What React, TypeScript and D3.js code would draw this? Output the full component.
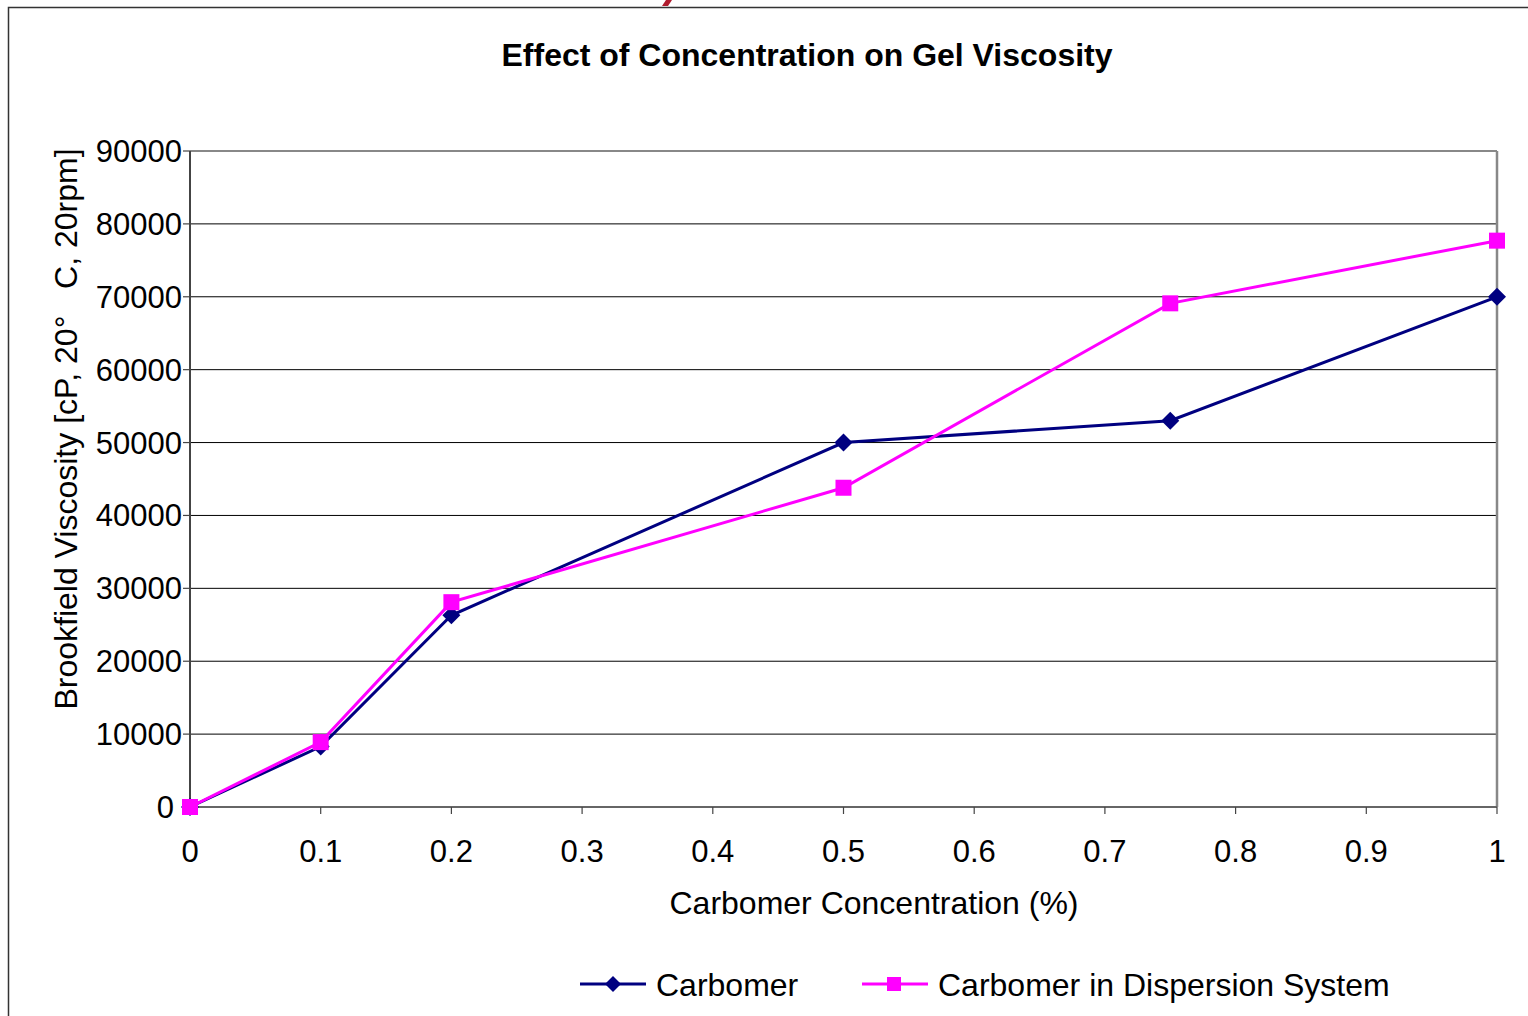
import React from "react";
import * as d3 from "d3";

const concentrations = [0, 0.1, 0.2, 0.5, 0.75, 1];
const carbomer = [0, 8300, 26300, 50000, 53000, 70000];
const dispersion = [0, 8900, 28100, 43800, 69100, 77700];
const seriesNames = ["Carbomer", "Carbomer in Dispersion System"];
const yTicks = [0, 10000, 20000, 30000, 40000, 50000, 60000, 70000, 80000, 90000];
const xTicks = [0, 0.1, 0.2, 0.3, 0.4, 0.5, 0.6, 0.7, 0.8, 0.9, 1];

const W = 1528;
const H = 1016;
const FONT = "'Liberation Sans', Arial, sans-serif";

export default function App() {
  const left = 190, right = 1497, top = 151, bottom = 807;
  const x = d3.scaleLinear().domain([0, 1]).range([left, right]);
  const y = d3.scaleLinear().domain([0, 90000]).range([bottom, top]);
  const line = d3
    .line<[number, number]>()
    .x((d) => x(d[0]))
    .y((d) => y(d[1]));
  const dataA: [number, number][] = concentrations.map((c, i) => [c, carbomer[i]]);
  const dataB: [number, number][] = concentrations.map((c, i) => [c, dispersion[i]]);
  const navy = "#000080";
  const magenta = "#FF00FF";
  const diamond = (cx: number, cy: number, r = 9) =>
    `M${cx},${cy - r}L${cx + r},${cy}L${cx},${cy + r}L${cx - r},${cy}Z`;

  return (
    <svg
      width={W}
      height={H}
      style={{ position: "absolute", left: 0, top: 0, background: "#fff" }}
      fontFamily={FONT}
    >
      <rect x={0} y={0} width={W} height={H} fill="#fff" />
      {/* outer frame */}
      <path d={`M8.5,${H}L8.5,7.5L${W},7.5`} fill="none" stroke="#333" strokeWidth={1.5} />
      {/* small red mark at top */}
      <path d="M662,6 L666,0 L672,0 L668,6 Z" fill="#b01c2e" />

      {/* title */}
      <text x={807} y={66} textAnchor="middle" fontSize={32} fontWeight="bold" fill="#000">
        Effect of Concentration on Gel Viscosity
      </text>

      {/* gridlines */}
      {yTicks.map((t) =>
        t === 0 ? null : (
          <line key={t} x1={left} x2={right} y1={y(t)} y2={y(t)} stroke={t === 90000 ? "#888" : "#000"} strokeWidth={t === 90000 ? 2 : 1} />
        )
      )}
      {/* plot border */}
      <line x1={right} x2={right} y1={top} y2={bottom} stroke="#888" strokeWidth={2.5} />
      <line x1={left} x2={right} y1={bottom} y2={bottom} stroke="#666" strokeWidth={2} />
      <line x1={left} x2={left} y1={top} y2={bottom} stroke="#444" strokeWidth={2} />

      {/* y ticks */}
      {yTicks.map((t) => (
        <g key={t}>
          <line x1={left - 7} x2={left} y1={y(t)} y2={y(t)} stroke="#444" strokeWidth={1.2} />
          <text x={t === 0 ? left - 16 : left - 8} y={y(t) + 11} textAnchor="end" fontSize={31} fill="#000">
            {t}
          </text>
        </g>
      ))}
      {/* x ticks */}
      {xTicks.map((t) => (
        <g key={t}>
          <line x1={x(t)} x2={x(t)} y1={bottom} y2={bottom + 7} stroke="#444" strokeWidth={1.2} />
          <text x={x(t)} y={bottom + 55} textAnchor="middle" fontSize={31} fill="#000">
            {String(t)}
          </text>
        </g>
      ))}

      {/* axis titles */}
      <text x={874} y={914} textAnchor="middle" fontSize={32} fill="#000">
        Carbomer Concentration (%)
      </text>
      <text
        transform={`translate(77,${429}) rotate(-90)`}
        textAnchor="middle"
        fontSize={32}
        fill="#000"
        style={{ whiteSpace: "pre" }}
      >
        {"Brookfield Viscosity [cP, 20°   C, 20rpm]"}
      </text>

      {/* series */}
      <path d={line(dataA) || ""} fill="none" stroke={navy} strokeWidth={3} />
      {dataA.map((d, i) => (
        <path key={i} d={diamond(x(d[0]), y(d[1]))} fill={navy} />
      ))}
      <path d={line(dataB) || ""} fill="none" stroke={magenta} strokeWidth={3} />
      {dataB.map((d, i) => (
        <rect key={i} x={x(d[0]) - 8} y={y(d[1]) - 8} width={16} height={16} fill={magenta} />
      ))}

      {/* legend */}
      <g>
        <line x1={580} x2={646} y1={984} y2={984} stroke={navy} strokeWidth={3} />
        <path d={diamond(613, 984, 8)} fill={navy} />
        <text x={656} y={996} fontSize={32} fill="#000">
          {seriesNames[0]}
        </text>
        <line x1={862} x2={928} y1={984} y2={984} stroke={magenta} strokeWidth={3} />
        <rect x={887} y={977} width={14} height={14} fill={magenta} />
        <text x={938} y={996} fontSize={32} fill="#000">
          {seriesNames[1]}
        </text>
      </g>
    </svg>
  );
}
